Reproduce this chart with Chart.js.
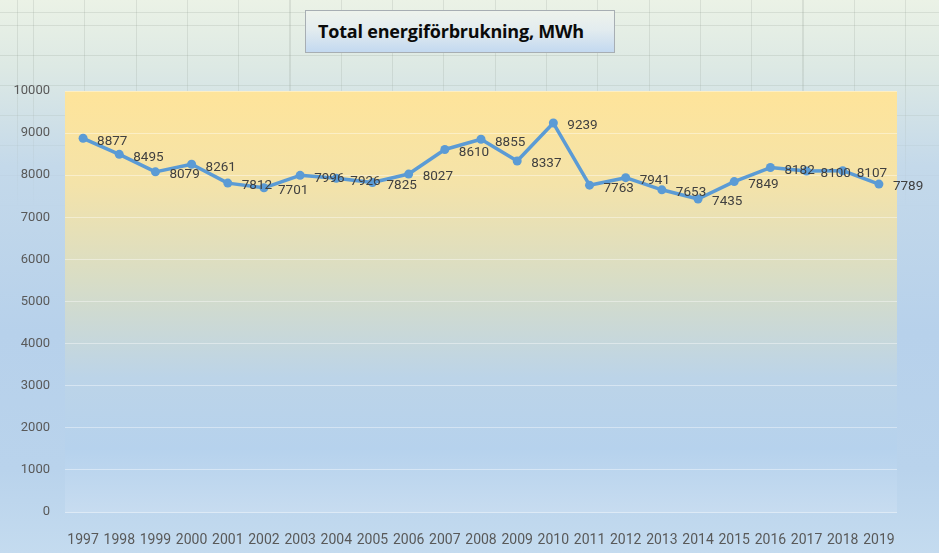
<!DOCTYPE html>
<html>
<head>
<meta charset="utf-8">
<script src="https://cdn.jsdelivr.net/npm/chart.js@4"></script>
<style>
  html, body { margin: 0; padding: 0; }
  body {
    width: 939px;
    height: 553px;
    overflow: hidden;
    position: relative;
    background: linear-gradient(180deg, #ebf2e6 0%, #dde9e4 12%, #c4d9ea 30%, #b7d1eb 60%, #b9d3ec 85%, #c4dbef 100%);
  }
  /* faint spreadsheet cells showing through the chart's top */
  #cells {
    position: absolute; left: 0; top: 0; width: 939px; height: 553px;
    background-image:
      repeating-linear-gradient(90deg, rgba(140,150,140,0.2) 0 1px, transparent 1px 51.3px),
      repeating-linear-gradient(180deg, rgba(140,150,140,0.2) 0 1px, transparent 1px 30px);
    background-position: 33px 25px, 0 25px;
    -webkit-mask-image: linear-gradient(180deg, #000 0%, #000 12%, transparent 38%);
    mask-image: linear-gradient(180deg, #000 0%, #000 12%, transparent 38%);
  }
  #wrap { position: absolute; left: 0; top: 0; width: 939px; height: 553px; }
  #title {
    position: absolute;
    left: 305px; top: 10px;
    width: 310px; height: 43px;
    box-sizing: border-box;
    border: 1px solid #a7aeb3;
    background: linear-gradient(180deg, #eef3ec 0%, #e3ecef 45%, #c3d9f0 100%);
    font: bold 18px "Open Sans", sans-serif;
    color: #0a0a0a;
    line-height: 41px;
    padding-left: 12px;
    letter-spacing: -0.2px;
    white-space: nowrap;
  }
</style>
</head>
<body>
<div id="cells"></div>
<div id="wrap"><canvas id="chart" width="939" height="553"></canvas></div>
<div id="title">Total energiförbrukning, MWh</div>
<script>
/* ──────────────────────────────────────────────
   Data
   ────────────────────────────────────────────── */
const YEARS = ['1997', '1998', '1999', '2000', '2001', '2002', '2003', '2004', '2005', '2006', '2007', '2008',
  '2009', '2010', '2011', '2012', '2013', '2014', '2015', '2016', '2017', '2018', '2019'];
const ENERGY_MWH = [8877, 8495, 8079, 8261, 7812, 7701, 7996, 7926, 7825, 8027, 8610, 8855,
  8337, 9239, 7763, 7941, 7653, 7435, 7849, 8182, 8100, 8107, 7789];
const Y_MIN = 0;
const Y_MAX = 10000;
const Y_STEP = 1000;

const LINE_COLOR = '#5b9bd5';
const TEXT_COLOR = '#595959';

/* ──────────────────────────────────────────────
   Plugins
   ────────────────────────────────────────────── */
// Yellow-to-blue fill behind the plot area
const plotBackground = {
  id: 'plotBackground',
  beforeDraw(chart) {
    const { ctx, chartArea } = chart;
    const { left, top, right, bottom } = chartArea;
    const g = ctx.createLinearGradient(0, top, 0, bottom);
    g.addColorStop(0, '#fee49a');
    g.addColorStop(0.22, '#f4e3a9');
    g.addColorStop(0.45, '#d8ddc6');
    g.addColorStop(0.68, '#bcd4e8');
    g.addColorStop(0.85, '#b6d2ed');
    g.addColorStop(1, '#c7dcf0');
    ctx.save();
    ctx.fillStyle = g;
    ctx.fillRect(left, top, right - left, bottom - top + 1);
    ctx.restore();
  },
};

// Value labels to the right of each point
const valueLabels = {
  id: 'valueLabels',
  afterDatasetsDraw(chart) {
    const { ctx } = chart;
    const meta = chart.getDatasetMeta(0);
    const data = chart.data.datasets[0].data;
    ctx.save();
    ctx.font = '13.5px Roboto, sans-serif';
    ctx.fillStyle = '#404040';
    ctx.textAlign = 'left';
    ctx.textBaseline = 'middle';
    meta.data.forEach((pt, i) => {
      ctx.fillText(String(data[i]), pt.x + 14, pt.y + 3);
    });
    ctx.restore();
  },
};

/* ──────────────────────────────────────────────
   Chart
   ────────────────────────────────────────────── */
const canvas = document.getElementById('chart');

new Chart(canvas, {
  type: 'line',
  data: {
    labels: YEARS,
    datasets: [
      {
        data: ENERGY_MWH,
        borderColor: LINE_COLOR,
        backgroundColor: LINE_COLOR,
        borderWidth: 3.5,
        borderJoinStyle: 'round',
        borderCapStyle: 'round',
        tension: 0,
        pointRadius: 4.5,
        pointBorderWidth: 0,
        pointBackgroundColor: LINE_COLOR,
      },
    ],
  },
  options: {
    responsive: false,
    animation: false,
    layout: { padding: { left: 0, right: 42, top: 91, bottom: 0 } },
    scales: {
      x: {
        offset: true,
        grid: { display: false },
        border: { display: false },
        ticks: {
          color: TEXT_COLOR,
          padding: 12,
          maxRotation: 0,
          autoSkip: false,
          font: { family: 'Roboto, sans-serif', size: 14 },
        },
        afterFit(scale) { scale.height = 41; },
      },
      y: {
        min: Y_MIN,
        max: Y_MAX,
        grid: { color: 'rgba(255,255,255,0.4)', lineWidth: 1, drawTicks: false },
        border: { display: false },
        ticks: {
          stepSize: Y_STEP,
          color: TEXT_COLOR,
          padding: 15,
          font: { family: 'Roboto, sans-serif', size: 13 },
          callback: (v) => String(v),
        },
        afterFit(scale) { scale.width = 65; },
      },
    },
    plugins: {
      legend: { display: false },
      tooltip: { enabled: false },
    },
  },
  plugins: [plotBackground, valueLabels],
});
</script>
</body>
</html>
